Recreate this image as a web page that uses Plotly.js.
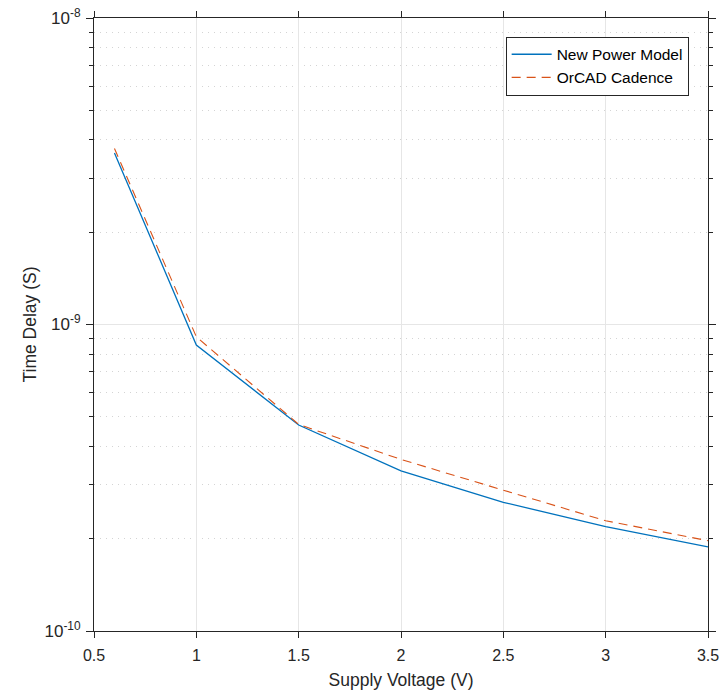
<!DOCTYPE html>
<html>
<head>
<meta charset="utf-8">
<script src="https://cdn.plot.ly/plotly-3.0.1.min.js"></script>
<style>html,body{margin:0;padding:0;background:#fff;}#chart{width:721px;height:693px;}</style>
</head>
<body>
<div id="chart"></div>
<script>
const voltage = [0.6, 1, 1.5, 2, 2.5, 3, 3.5];
const newPowerModel = [3.63e-9, 8.57e-10, 4.70e-10, 3.33e-10, 2.63e-10, 2.19e-10, 1.88e-10];
const orcadCadence = [3.75e-9, 9.12e-10, 4.72e-10, 3.63e-10, 2.88e-10, 2.29e-10, 1.97e-10];
const xTicks = [0.5, 1, 1.5, 2, 2.5, 3, 3.5];
const xTickText = ['0.5', '1', '1.5', '2', '2.5', '3', '3.5'];
const yTicks = [1e-10, 1e-9, 1e-8];
const yTickText = ['10<sup>-10</sup>', '10<sup>-9</sup>', '10<sup>-8</sup>'];
const yMinor = [];
[1e-10, 1e-9].forEach(d => { for (let k = 2; k <= 9; k++) yMinor.push(k * d); });

const traces = [
  {x: voltage, y: newPowerModel, name: 'New Power Model', mode: 'lines', type: 'scatter',
   line: {color: '#0072BD', width: 1.3}},
  {x: voltage, y: orcadCadence, name: 'OrCAD Cadence', mode: 'lines', type: 'scatter',
   line: {color: '#D95319', width: 1.1, dash: '9px,6px'}}
];

const FAM = 'Liberation Sans, Arial, sans-serif';
const axisFont = {family: FAM, size: 16, color: '#262626'};
const layout = {
  width: 721, height: 693,
  margin: {l: 94, r: 13, t: 18, b: 62},
  paper_bgcolor: '#fff', plot_bgcolor: '#fff',
  showlegend: true,
  legend: {x: 0.9685, y: 0.9695, xanchor: 'right', yanchor: 'top', bgcolor: '#fff',
           bordercolor: '#262626', borderwidth: 1,
           font: {family: FAM, size: 15.5, color: '#000'},
           tracegroupgap: 0, itemwidth: 40},
  xaxis: {
    range: [0.5, 3.5], tickmode: 'array', tickvals: xTicks, ticktext: xTickText,
    showline: true, linecolor: '#262626', linewidth: 1, mirror: 'ticks',
    ticks: 'outside', ticklen: 6, tickcolor: '#262626',
    showgrid: true, gridcolor: '#e6e6e6', gridwidth: 1, zeroline: false,
    tickfont: axisFont, ticklabelstandoff: 4,
    title: {text: 'Supply Voltage (V)', font: {family: FAM, size: 17.5, color: '#262626'}, standoff: 10}
  },
  yaxis: {
    type: 'log', range: [-10, -8], tickmode: 'array', tickvals: yTicks, ticktext: yTickText,
    showline: true, linecolor: '#262626', linewidth: 1, mirror: 'ticks',
    ticks: 'outside', ticklen: 7, tickcolor: '#262626',
    showgrid: true, gridcolor: '#e6e6e6', gridwidth: 1, zeroline: false,
    tickfont: {family: FAM, size: 17, color: '#262626'}, ticklabelstandoff: 2,
    minor: {tickmode: 'array', tickvals: yMinor, ticks: 'outside', ticklen: 4, tickcolor: '#262626',
            showgrid: true, gridcolor: '#d4d4d4', griddash: '1px,5px', gridwidth: 1},
    title: {text: 'Time Delay (S)', font: {family: FAM, size: 17.5, color: '#262626'}, standoff: 3}
  }
};

Plotly.newPlot('chart', traces, layout, {displayModeBar: false, staticPlot: true});
</script>
</body>
</html>
